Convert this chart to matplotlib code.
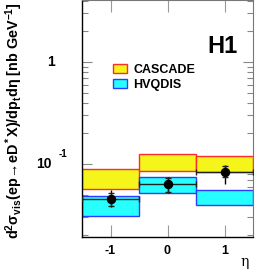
import matplotlib
matplotlib.use("Agg")
import matplotlib.pyplot as plt
from matplotlib.ticker import LogLocator, NullFormatter, FixedLocator
from matplotlib.patches import Patch

plt.rcParams["font.family"] = ["Liberation Sans", "DejaVu Sans"]
plt.rcParams["mathtext.fontset"] = "custom"
plt.rcParams["mathtext.rm"] = "Liberation Sans:bold"
plt.rcParams["mathtext.it"] = "Liberation Sans:bold"
plt.rcParams["mathtext.bf"] = "Liberation Sans:bold"

# eta bins (centres), width 1
ETA = [-1, 0, 1]
CASCADE_LO = [0.0565, 0.086, 0.083]
CASCADE_HI = [0.0887, 0.125, 0.121]
HVQDIS_LO = [0.0307, 0.0516, 0.0394]
HVQDIS_HI = [0.0489, 0.0751, 0.0552]
DATA = [0.0454, 0.0632, 0.0841]
STAT_LO = [0.0387, 0.0535, 0.0741]
STAT_HI = [0.0516, 0.0724, 0.0956]
TOT_LO = [0.0377, 0.0516, 0.0632]
TOT_HI = [0.0556, 0.0741, 0.0978]

YEL, RED = "#f5f51c", "#ff2a2a"
CYN, BLU = "#27ffff", "#2a3cff"

fig = plt.figure(figsize=(2.78, 2.72), dpi=100)
ax = fig.add_axes([82 / 278, 1 - 236.5 / 272, (253 - 82) / 278, 236.5 / 272])

ax.bar(ETA, [h - l for h, l in zip(CASCADE_HI, CASCADE_LO)], bottom=CASCADE_LO, width=1.0,
       color=YEL, edgecolor=RED, lw=1.0, zorder=2)
ax.bar(ETA, [h - l for h, l in zip(HVQDIS_HI, HVQDIS_LO)], bottom=HVQDIS_LO, width=1.0,
       color=CYN, edgecolor=BLU, lw=1.0, zorder=2)

# data: total error line, stat error caps, bin-width line
ax.errorbar(ETA, DATA, yerr=[[d - l for d, l in zip(DATA, TOT_LO)], [h - d for d, h in zip(DATA, TOT_HI)]],
            fmt="none", ecolor="black", elinewidth=1.0, capsize=0, zorder=4)
ax.errorbar(ETA, DATA, yerr=[[d - l for d, l in zip(DATA, STAT_LO)], [h - d for d, h in zip(DATA, STAT_HI)]],
            xerr=0.5, fmt="o", color="black", ms=5.8, ecolor="#222222", elinewidth=1.0,
            capsize=2.5, capthick=1.0, zorder=5)

ax.set_xlim(-1.5, 1.5)
ax.set_yscale("log")
ax.set_ylim(0.0195, 4.05)
ax.xaxis.set_major_locator(FixedLocator(ETA))
ax.set_xticklabels(["-1", "0", "1"], fontsize=9, fontweight="bold")
ax.yaxis.set_major_locator(FixedLocator([0.1, 1]))
ax.yaxis.set_minor_locator(LogLocator(base=10, subs=range(2, 10)))
ax.yaxis.set_major_formatter(NullFormatter())
ax.yaxis.set_minor_formatter(NullFormatter())
ax.tick_params(axis="x", which="major", direction="in", length=8.6, width=0.8, color="#999999",
               top=True, pad=6)
ax.tick_params(axis="y", which="major", direction="in", length=7.2, width=0.8, color="#888888", right=True)
ax.tick_params(axis="y", which="minor", direction="in", length=4.3, width=0.8, color="#888888", right=True)
for s in ("left", "bottom"):
    ax.spines[s].set_linewidth(1.0)
ax.spines["right"].set_color("#777777")
ax.spines["top"].set_color("#777777")

ytr = ax.get_yaxis_transform()
ax.text(-27 / 171, 1, "1", transform=ytr, ha="right", va="center", fontsize=10, fontweight="bold")
ax.text(-30 / 171, 0.1, "10", transform=ytr, ha="right", va="center", fontsize=10, fontweight="bold")
ax.text(-23 / 171, 0.112, "-1", transform=ytr, ha="left", va="bottom", fontsize=7, fontweight="bold")

ax.text(1 - 15 / 171, 1 - 53 / 236.5, "H1", transform=ax.transAxes, ha="right", va="baseline",
        fontsize=17, fontweight="bold")

# legend
handles = [Patch(facecolor=YEL, edgecolor=RED, lw=1.0, label="CASCADE"),
           Patch(facecolor=CYN, edgecolor=BLU, lw=1.0, label="HVQDIS")]
leg = ax.legend(handles=handles, loc="upper left", bbox_to_anchor=(31 / 171, 1 - 64 / 236.5),
                frameon=False, prop={"size": 9, "weight": "bold"}, handlelength=1.15,
                handleheight=0.7, handletextpad=0.5, labelspacing=0.25, borderpad=0, borderaxespad=0)

fig.text(14 / 278, 1 - 2 / 272,
         r"$\mathregular{d^2\sigma_{vis}(ep\!\rightarrow\! eD^*X)/dp_td\eta}$ [nb GeV$^{\mathregular{-1}}$]",
         rotation=90, ha="center", va="top", fontsize=10.4, fontweight="bold")
fig.text(245 / 278, 1 - 266 / 272, "η", ha="center", va="baseline", fontsize=10, family="DejaVu Serif")

fig.savefig("out.png", dpi=100)
